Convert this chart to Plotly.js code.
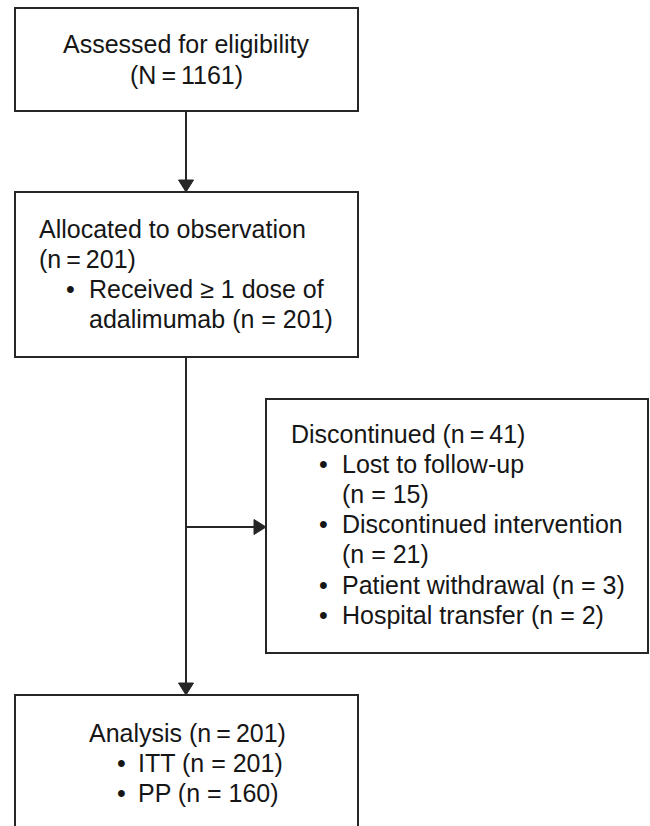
<!DOCTYPE html>
<html>
<head>
<meta charset="utf-8">
<script src="https://cdn.plot.ly/plotly-3.0.1.min.js"></script>
<style>html,body{margin:0;padding:0;background:#fff;}#chart{width:650px;height:826px;}</style>
</head>
<body>
<div id="chart"></div>
<script>
// ---- Content of the flow diagram ----
const assessLines = ["Assessed for eligibility", "(N\u2009=\u20091161)"];
const allocHeader = ["Allocated to observation", "(n\u2009=\u2009201)"];
const allocItems = [["Received \u2265 1 dose of", "adalimumab (n = 201)"]];
const discHeader = ["Discontinued (n\u2009=\u200941)"];
const discItems = [
  ["Lost to follow-up", "(n = 15)"],
  ["Discontinued intervention", "(n = 21)"],
  ["Patient withdrawal (n = 3)"],
  ["Hospital transfer (n = 2)"]
];
const analysisHeader = ["Analysis (n\u2009=\u2009201)"];
const analysisItems = [["ITT (n = 201)"], ["PP (n = 160)"]];

// ---- Layout geometry ----
const W = 650, H = 826;
const FONT = "Liberation Sans, Arial, Helvetica, sans-serif";
const FS = 25;
const TXT = "#161616";
const LINE = "#262626";
const LH = 30.2;

const boxes = {
  assess:   {x0: 15,  x1: 358, y0: 8,   y1: 111},
  alloc:    {x0: 15,  x1: 358, y0: 192, y1: 357},
  disc:     {x0: 266, x1: 648, y0: 399, y1: 653},
  analysis: {x0: 15,  x1: 358, y0: 695, y1: 860}
};
const stemX = 186;

const shapes = [];
const annotations = [];

function rect(b) {
  shapes.push({type: "rect", xref: "x", yref: "y", x0: b.x0, x1: b.x1, y0: b.y0, y1: b.y1,
    line: {color: LINE, width: 2}, fillcolor: "rgba(0,0,0,0)"});
}
function line(x0, y0, x1, y1) {
  shapes.push({type: "line", xref: "x", yref: "y", x0, y0, x1, y1, line: {color: LINE, width: 2}});
}
function arrowHead(tx, ty, dir) {
  const L = 12, hw = 7.5;
  let p;
  if (dir === "down") p = `M${tx},${ty} L${tx - hw},${ty - L} L${tx + hw},${ty - L} Z`;
  else p = `M${tx},${ty} L${tx - L},${ty - hw} L${tx - L},${ty + hw} Z`;
  shapes.push({type: "path", xref: "x", yref: "y", path: p, fillcolor: LINE, line: {color: LINE, width: 1}});
}
function text(t, x, y, anchor) {
  annotations.push({text: t, x, y, xref: "x", yref: "y", xanchor: anchor || "left", yanchor: "middle",
    showarrow: false, font: {family: FONT, size: FS, color: TXT}, borderpad: 0});
}
function block(header, items, hx, bx, tx, y0) {
  let y = y0;
  header.forEach(h => { text(h, hx, y); y += LH; });
  items.forEach(item => {
    text("\u2022", bx, y, "center");
    item.forEach(l => { text(l, tx, y); y += LH; });
  });
}

Object.values(boxes).forEach(rect);

// connectors
line(stemX, boxes.assess.y1, stemX, boxes.alloc.y0 - 10);
arrowHead(stemX, boxes.alloc.y0, "down");
line(stemX, boxes.alloc.y1, stemX, boxes.analysis.y0 - 10);
arrowHead(stemX, boxes.analysis.y0, "down");
const branchY = 527;
line(stemX, branchY, boxes.disc.x0 - 10, branchY);
arrowHead(boxes.disc.x0, branchY, "right");

// texts
assessLines.forEach((l, i) => text(l, stemX, 43.5 + i * 31, "center"));
block(allocHeader, allocItems, 37.5, 70.5, 88, 228.5);
block(discHeader, discItems, 289.5, 323.5, 340.5, 433.5);
block(analysisHeader, analysisItems, 88, 121, 136.5, 733);

const layout = {
  width: W, height: H,
  margin: {l: 0, r: 0, t: 0, b: 0},
  paper_bgcolor: "#ffffff", plot_bgcolor: "#ffffff",
  showlegend: false,
  xaxis: {range: [0, W], visible: false, fixedrange: true},
  yaxis: {range: [H, 0], visible: false, fixedrange: true},
  shapes, annotations
};
Plotly.newPlot("chart", [{x: [], y: [], type: "scatter", mode: "markers", hoverinfo: "skip"}], layout,
  {staticPlot: true, displayModeBar: false});
</script>
</body>
</html>
